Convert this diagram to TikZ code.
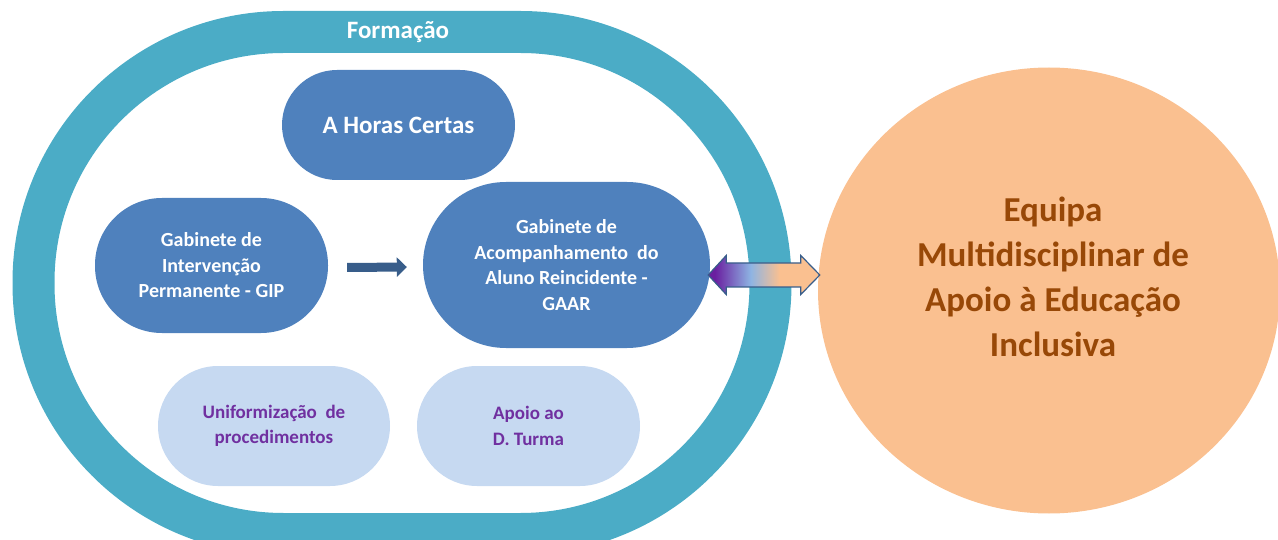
\documentclass[tikz,border=0pt]{standalone}
\usepackage{fontspec}
\setmainfont{Carlito}
\usetikzlibrary{shapes.geometric,arrows.meta,calc}
\definecolor{ringcol}{HTML}{4BACC6}
\definecolor{boxblue}{HTML}{4F81BD}
\definecolor{lightbox}{HTML}{C6D9F1}
\definecolor{purpletext}{HTML}{7030A0}
\definecolor{peachcol}{HTML}{FAC090}
\definecolor{browntext}{HTML}{984807}
\definecolor{arrowblue}{HTML}{385D8A}
\definecolor{gradpurple}{HTML}{6A1FA0}
\definecolor{gradblue}{HTML}{8EB4E3}
\pgfdeclarehorizontalshading{dblshade}{100bp}{color(0bp)=(gradpurple); color(28bp)=(gradpurple);
  color(44bp)=(gradblue); color(57bp)=(peachcol); color(100bp)=(peachcol)}
\begin{document}
\begin{tikzpicture}[x=1pt,y=-1pt,
  bluepill/.style={fill=boxblue, text=white, inner sep=0pt, align=center,
    font=\fontsize{20}{25.5}\selectfont\bfseries},
  lightpill/.style={fill=lightbox, text=purpletext, inner sep=0pt, align=center,
    font=\fontsize{19}{25.5}\selectfont\bfseries},
  flowarrow/.style={arrowblue, line width=9pt, -{Triangle[length=10pt,width=19pt]}},
  dblarrow/.style={draw=arrowblue, line width=1.2pt, shading=dblshade}]
\useasboundingbox (0,0) rectangle (1278,540);
\clip (0,0) rectangle (1278,540);
% outer ring
\draw[ringcol, line width=42pt, rounded corners=250pt] (33.5,32) rectangle (770.5,534);
\node[font=\fontsize{25}{30}\selectfont\bfseries, text=white] (form) at (398,32) {Formação};
% big circle
\node[ellipse, fill=peachcol, minimum width=462pt, minimum height=446pt, inner sep=0pt] (eq) at (1049,290.5) {};
\node[font=\fontsize{35}{45}\selectfont\bfseries, text=browntext, align=center] (eqtext) at (1053,277)
  {Equipa\\Multidisciplinar de\\Apoio à Educação\\Inclusiva};
% pills
\node[bluepill, minimum width=233pt, minimum height=110pt, rounded corners=55pt,
  font=\fontsize{25}{30}\selectfont\bfseries] (hc) at (398.5,125) {A Horas Certas};
\node[bluepill, minimum width=233pt, minimum height=135pt, rounded corners=67pt] (gip) at (211.5,265.5)
  {Gabinete de\\Intervenção\\Permanente - GIP};
\node[bluepill, minimum width=287pt, minimum height=166pt, rounded corners=83pt] (gaar) at (566.5,265)
  {Gabinete de\\Acompanhamento\ \ do\\Aluno Reincidente -\\GAAR};
\node[lightpill, minimum width=232pt, minimum height=120pt, rounded corners=60pt] (unif) at (274,426)
  {Uniformização\ \ de\\procedimentos};
\node[lightpill, minimum width=223pt, minimum height=120pt, rounded corners=60pt] (apoio) at (528.5,426)
  {Apoio ao\\D. Turma};
% arrows
\draw[flowarrow] ($(gip.east)+(19,2)$) -- ($(gaar.west)+(-16,2)$);
\coordinate (al) at ($(gaar.east)+(-2,10)$);
\coordinate (ar) at ($(eq.west)+(2,-15.5)$);
\path[dblarrow] (al) -- ++(18,-19.5) -- ++(0,7.5) -- ($(ar)+(-19,-12)$) -- ++(0,-7.5) -- (ar)
  -- ++(-19,19.5) -- ++(0,-7.5) -- ($(al)+(18,12)$) -- ++(0,7.5) -- cycle;
\end{tikzpicture}
\end{document}
